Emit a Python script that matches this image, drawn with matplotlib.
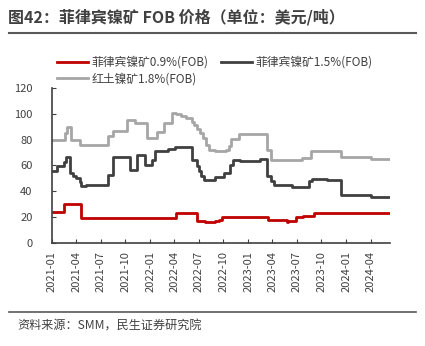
import matplotlib
matplotlib.use("Agg")
import matplotlib.pyplot as plt
import pandas as pd

plt.rcParams['font.family'] = ['Noto Sans CJK SC', 'DejaVu Sans']

# ---- data (change points of weekly step series) ----
red_dates = ["2021-01-01", "2021-02-15", "2021-04-20", "2022-04-08", "2022-06-26", "2022-07-26",
             "2022-08-29", "2022-09-13", "2022-09-26", "2023-03-15", "2023-05-25", "2023-05-30",
             "2023-06-27", "2023-07-25", "2023-09-03", "2024-06-10"]
red_vals = [24, 30, 19, 23.2, 17.3, 16, 17, 18, 20.1, 18, 16, 17.3, 20, 21.1, 23.2, 23.2]

dark_dates = ["2021-01-01", "2021-01-19", "2021-02-13", "2021-02-23", "2021-03-08", "2021-03-20",
              "2021-04-02", "2021-04-14", "2021-04-20", "2021-05-09", "2021-07-28", "2021-08-17",
              "2021-10-18", "2021-11-13", "2021-12-12", "2022-01-07", "2022-01-19", "2022-03-07",
              "2022-04-02", "2022-06-07", "2022-06-24", "2022-07-02", "2022-07-10", "2022-07-22",
              "2022-08-29", "2022-10-05", "2022-10-24", "2022-11-04", "2022-12-01", "2023-02-13",
              "2023-03-14", "2023-03-27", "2023-04-08", "2023-06-12", "2023-08-16", "2023-08-28",
              "2023-10-23", "2023-12-12", "2024-04-03", "2024-06-10"]
dark_vals = [55.4, 59.5, 63, 66.5, 54, 52, 50, 47.5, 44.3, 45, 53, 66.5, 56.7, 68, 60.6, 64.5,
             71.4, 72.7, 74, 64.5, 59.3, 55.4, 51.6, 49, 51, 54, 60.6, 64.5, 63.2, 65, 52, 47.7,
             45, 43.5, 47.7, 49.8, 49, 37, 35.6, 35.6]

gray_dates = ["2021-01-01", "2021-02-19", "2021-02-26", "2021-03-11", "2021-04-14", "2021-07-27",
              "2021-08-15", "2021-10-06", "2021-11-05", "2021-12-20", "2022-01-27", "2022-02-22",
              "2022-03-23", "2022-04-08", "2022-04-27", "2022-05-15", "2022-06-07", "2022-06-15",
              "2022-06-24", "2022-07-04", "2022-07-16", "2022-07-29", "2022-08-08", "2022-08-29",
              "2022-10-12", "2022-10-20", "2022-10-28", "2022-11-29", "2023-03-14", "2023-03-28",
              "2023-07-22", "2023-08-23", "2023-12-12", "2024-04-03", "2024-06-10"]
gray_vals = [80, 85, 90, 80, 76, 83, 87, 95, 93, 81, 86, 93, 101, 100, 98, 96.5, 94, 91.5, 88,
             85, 81, 76, 72, 71, 72, 75, 80.5, 84, 72, 64, 66, 71, 66.3, 65, 65]

series_names = ["菲律宾镍矿0.9%(FOB)", "菲律宾镍矿1.5%(FOB)", "红土镍矿1.8%(FOB)"]
tick_labels = ["2021-01", "2021-04", "2021-07", "2021-10", "2022-01", "2022-04", "2022-07",
               "2022-10", "2023-01", "2023-04", "2023-07", "2023-10", "2024-01", "2024-04"]
y_ticks = [0, 20, 40, 60, 80, 100, 120]

title = "图42：菲律宾镍矿 FOB 价格（单位：美元/吨）"
source = "资料来源：SMM，民生证券研究院"

# ---- figure ----
fig = plt.figure(figsize=(4.25, 3.46), dpi=100)
ax = fig.add_axes([52/425, 1-243/346, (390-52)/425, (243-88)/346])

colors = ["#C00000", "#404040", "#A6A6A6"]
lines = []
for d, v, c, n in [(red_dates, red_vals, colors[0], series_names[0]),
                   (dark_dates, dark_vals, colors[1], series_names[1]),
                   (gray_dates, gray_vals, colors[2], series_names[2])]:
    ln, = ax.plot(pd.to_datetime(d), v, drawstyle="steps-post", color=c, lw=2, label=n)
    lines.append(ln)

ax.set_xlim(pd.Timestamp("2021-01-01"), pd.Timestamp("2024-06-12"))
ax.set_ylim(0, 120)
ax.set_yticks(y_ticks)
ax.set_xticks(pd.to_datetime(tick_labels, format="%Y-%m"))
ax.set_xticklabels(tick_labels, rotation=90)
for s in ["top", "right"]:
    ax.spines[s].set_visible(False)
for s in ["left", "bottom"]:
    ax.spines[s].set_color("#404040")
    ax.spines[s].set_linewidth(1.2)
ax.tick_params(axis="both", direction="in", length=3, color="#404040",
               labelsize=8, labelcolor="#404040")
ax.tick_params(axis="y", pad=14)
ax.tick_params(axis="x", pad=6)

order = [lines[0], lines[2], lines[1]]
leg = fig.legend(order, [l.get_label() for l in order], loc="upper left",
                 bbox_to_anchor=(57/425, 1-56/346), ncol=2, frameon=False,
                 fontsize=8.5, handlelength=2.6, handletextpad=0.3, columnspacing=1.1,
                 labelspacing=0.3, borderaxespad=0, borderpad=0)
for t in leg.get_texts():
    t.set_color("#404040")

fig.text(8/425, 1-17/346, title, fontsize=11.5, fontweight="bold", color="#404040",
         va="center", ha="left")
fig.add_artist(plt.Line2D([9/425, 416/425], [1-33/346, 1-33/346], color="#595959", lw=1.5))
fig.add_artist(plt.Line2D([9/425, 416/425], [1-312/346, 1-312/346], color="#595959", lw=1.2))
fig.text(17/425, 1-326/346, source, fontsize=8.7, color="#404040", va="center", ha="left")

fig.savefig("out.png", dpi=100)
